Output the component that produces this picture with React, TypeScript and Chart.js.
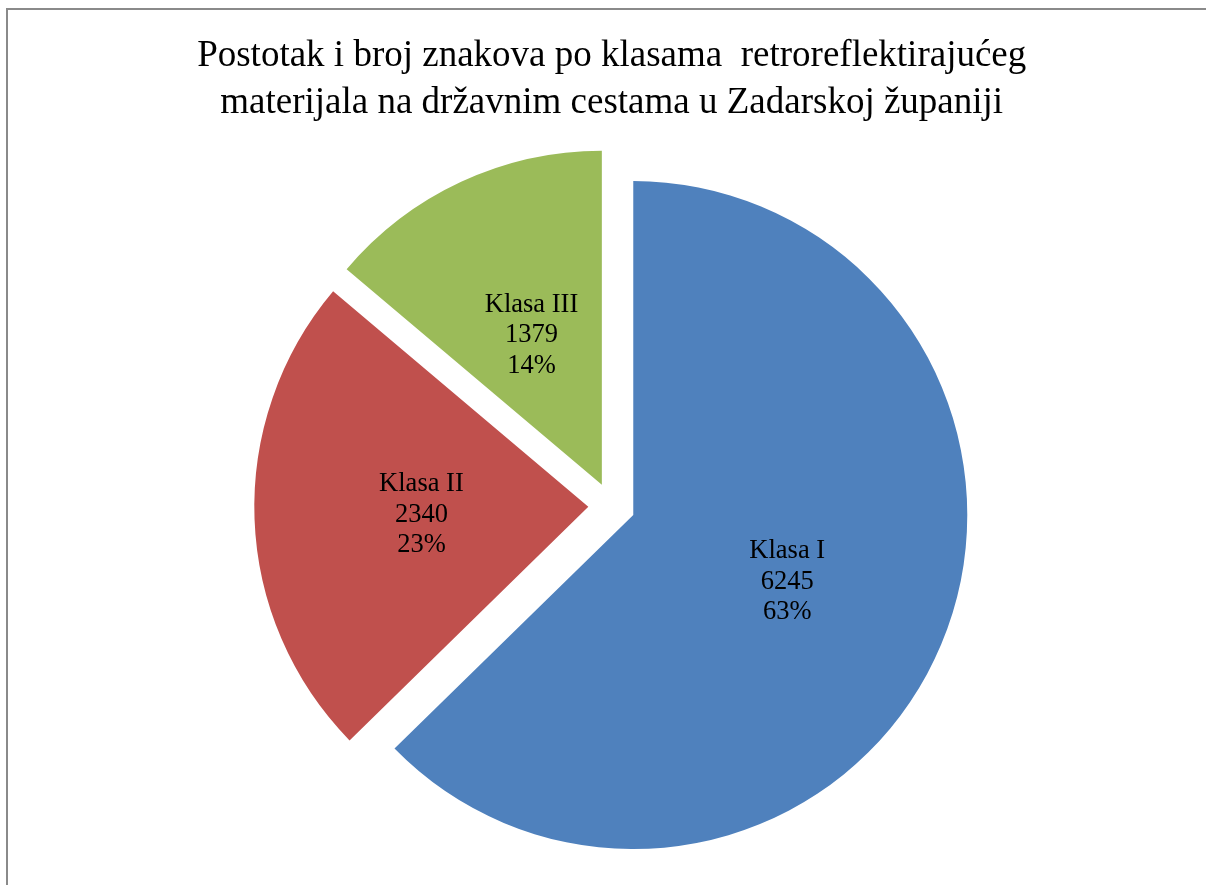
import React, { useEffect, useRef } from "react";
import { Chart, registerables } from "chart.js";

Chart.register(...registerables);

const titleLines = [
  "Postotak i broj znakova po klasama  retroreflektirajućeg",
  "materijala na državnim cestama u Zadarskoj županiji",
];
const categories = ["Klasa I", "Klasa II", "Klasa III"];
const counts = [6245, 2340, 1379];
const sliceColors = ["#4F81BD", "#C0504D", "#9BBB59"];

const EXPLODE = 23.4;
const SERIF = "'Liberation Serif', 'Times New Roman', serif";

const explodePlugin = {
  id: "explodeSlices",
  beforeDatasetsDraw(chart: any) {
    const meta = chart.getDatasetMeta(0);
    meta.data.forEach((el: any) => {
      if (el.__exploded) return;
      const orig = el.draw;
      el.draw = function (ctx: CanvasRenderingContext2D) {
        const mid = (this.startAngle + this.endAngle) / 2;
        ctx.save();
        ctx.translate(Math.cos(mid) * EXPLODE, Math.sin(mid) * EXPLODE);
        orig.call(this, ctx);
        ctx.restore();
      };
      el.__exploded = true;
    });
  },
};

const labelPlugin = {
  id: "sliceLabels",
  afterDatasetsDraw(chart: any) {
    const ctx = chart.ctx as CanvasRenderingContext2D;
    const meta = chart.getDatasetMeta(0);
    const data = chart.data.datasets[0].data as number[];
    const total = data.reduce((a, b) => a + b, 0);
    ctx.save();
    ctx.font = `26.5px ${SERIF}`;
    ctx.fillStyle = "#000";
    ctx.textAlign = "center";
    ctx.textBaseline = "middle";
    meta.data.forEach((el: any, i: number) => {
      const mid = (el.startAngle + el.endAngle) / 2;
      const dist = EXPLODE + el.outerRadius * 0.5;
      const cx = el.x + Math.cos(mid) * dist;
      const cy = el.y + Math.sin(mid) * dist + 2;
      const lines = [
        String(chart.data.labels[i]),
        String(data[i]),
        Math.round((data[i] / total) * 100) + "%",
      ];
      const lh = 30.5;
      lines.forEach((t, k) => {
        ctx.fillText(t, cx, cy + (k - 1) * lh);
      });
    });
    ctx.restore();
  },
};

export default function App() {
  const ref = useRef<HTMLCanvasElement>(null);
  useEffect(() => {
    if (!ref.current) return;
    const chart = new Chart(ref.current, {
      type: "pie",
      data: {
        labels: categories,
        datasets: [
          {
            data: counts,
            backgroundColor: sliceColors,
            borderWidth: 0,
            offset: 0,
            hoverOffset: 0,
          },
        ],
      },
      options: {
        responsive: false,
        animation: false,
        events: [],
        layout: { padding: { left: 9.4, right: 0, top: 0, bottom: 45 } },
        plugins: {
          legend: { display: false },
          tooltip: { enabled: false },
          title: {
            display: true,
            text: titleLines,
            color: "#000",
            font: { family: SERIF, size: 37, weight: "normal", lineHeight: 1.27 },
            padding: { top: 23, bottom: 45 },
          },
        },
      },
      plugins: [explodePlugin, labelPlugin],
    } as any);
    return () => chart.destroy();
  }, []);
  return (
    <div
      style={{
        position: "absolute",
        left: 6,
        top: 8,
        width: 1200,
        height: 877,
        boxSizing: "border-box",
        borderTop: "2px solid #8a8a8a",
        borderLeft: "2px solid #8a8a8a",
        background: "#fff",
      }}
    >
      <canvas ref={ref} width={1198} height={875} style={{ display: "block" }} />
    </div>
  );
}
